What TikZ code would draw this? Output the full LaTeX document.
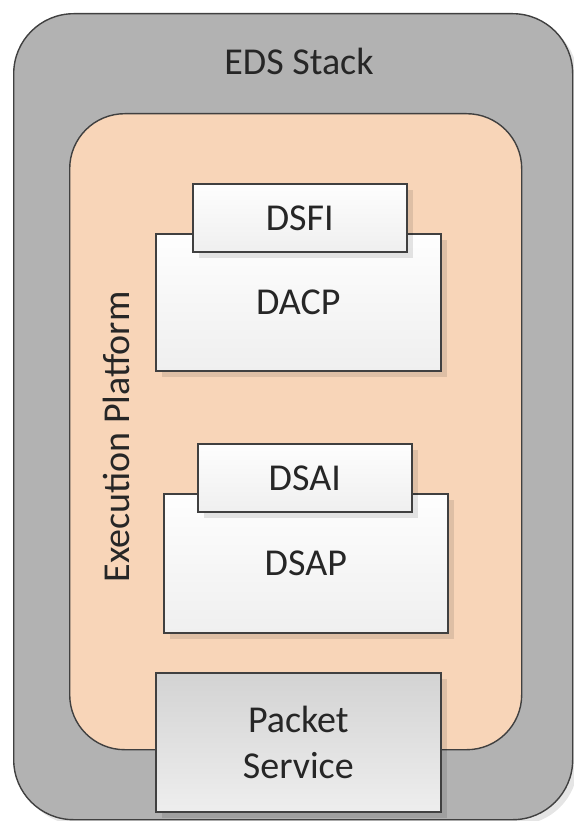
\documentclass[tikz,border=0pt]{standalone}
\usepackage{fontspec}
\setmainfont{Carlito}
\usetikzlibrary{shadows}
\definecolor{edgegray}{HTML}{404040}
\definecolor{stackgray}{HTML}{B2B2B2}
\definecolor{peach}{HTML}{F8D5B8}
\definecolor{boxtop}{HTML}{FEFEFE}
\definecolor{boxbottom}{HTML}{EFEFEF}
\definecolor{pktop}{HTML}{D3D3D3}
\definecolor{pkbottom}{HTML}{EEEEEE}
\tikzset{
  every node/.style={font=\fontsize{38}{46}\selectfont, text=black!85},
  container/.style={draw=edgegray, line width=1.4pt, anchor=north west, inner sep=0pt},
  compbox/.style={draw=edgegray, line width=1.6pt, anchor=north west, inner sep=0pt,
    top color=boxtop, bottom color=boxbottom, align=center,
    drop shadow={shadow xshift=6pt, shadow yshift=-6pt, fill=black, opacity=0.10}},
  servicebox/.style={compbox, top color=pktop, bottom color=pkbottom},
}
\begin{document}
\begin{tikzpicture}[x=1pt, y=-1pt]
  \fill[white] (0,0) rectangle (573,821);
  % outer stack with a soft shadow
  \node[container, fill=stackgray, rounded corners=60pt, minimum width=559pt, minimum height=806pt,
    drop shadow={shadow xshift=5pt, shadow yshift=-5pt, fill=black, opacity=0.10}] (stack) at (13,13) {};
  \node (stacklabel) at (299,61) {EDS Stack};
  % execution platform
  \node[container, fill=peach, rounded corners=55pt, minimum width=452pt, minimum height=636pt] (platform) at (69,113) {};
  \node[rotate=90] (platlabel) at (116,437) {Execution Platform};
  % components
  \node[compbox, minimum width=285pt, minimum height=137pt] (dacp) at (155,233) {DACP};
  \node[compbox, minimum width=214pt, minimum height=68pt] (dsfi) at (192,183) {DSFI};
  \node[compbox, minimum width=284pt, minimum height=139pt] (dsap) at (163,493) {DSAP};
  \node[compbox, minimum width=214pt, minimum height=68pt] (dsai) at (197,443) {DSAI};
  \node[servicebox, minimum width=285pt, minimum height=139pt] (packet) at (155,672) {Packet\\Service};
  % fixed page size
  \pgfresetboundingbox
  \useasboundingbox (0,0) rectangle (573,821);
\end{tikzpicture}
\end{document}
